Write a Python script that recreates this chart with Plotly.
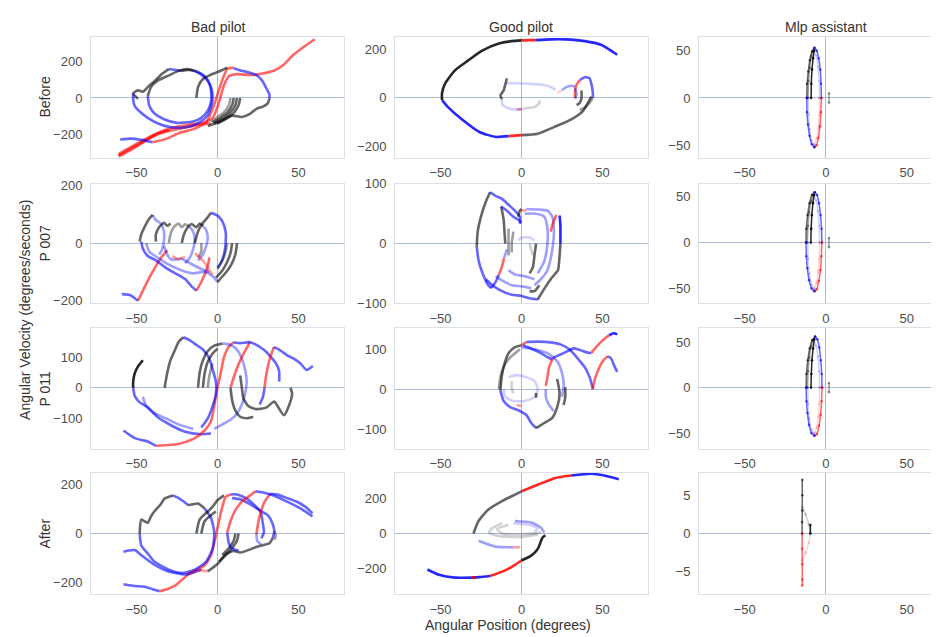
import plotly.graph_objects as go

# ---------------- labels / ticks ----------------
COL_TITLES = ["Bad pilot", "Good pilot", "Mlp assistant"]
ROW_TITLES = ["Before", "P 007", "P 011", "After"]
X_TITLE = "Angular Position (degrees)"
Y_TITLE = "Angular Velocity (degrees/seconds)"
X_TICKS = [-50, 0, 50]
Y_TICKS = [
    [[-200, 0, 200], [-200, 0, 200], [-50, 0, 50]],
    [[-200, 0, 200], [-100, 0, 100], [-50, 0, 50]],
    [[-100, 0, 100], [-100, 0, 100], [-50, 0, 50]],
    [[-200, 0, 200], [-200, 0, 200], [-5, 0, 5]],
]
Y_RANGES = [
    [[-330, 335], [-245, 248], [-63, 64]],
    [[-208, 205], [-100, 100], [-66, 64]],
    [[-199, 194], [-149, 152], [-67, 65]],
    [[-248, 248], [-350, 350], [-7.9, 7.9]],
]

# ---------------- trajectories: (segment kind, recency level, points) ----------------
BAD_BEFORE = [
    ("r", 1, [(-61, -325), (-52, -280), (-44, -235), (-37, -195), (-28, -165), (-18, -148), (-9, -138), (-3, -110), (0, -50), (2, 10), (4, 70), (7, 120), (12, 132), (20, 127), (27, 134), (35, 152), (41, 185), (46, 232), (52, 275), (60, 325)]),
    ("r", 1, [(-61, -318), (-50, -262), (-40, -215), (-33, -190), (-22, -168), (-12, -150), (-4, -140)]),
    ("r", 1, [(-61, -311), (-48, -245), (-38, -200), (-30, -178)]),
    ("b", 1, [(-60, -230), (-53, -225), (-47, -232), (-40, -245)]),
    ("r", 1, [(-40, -245), (-32, -228), (-24, -195), (-14, -170), (-7, -135), (-3, -60), (0, 20), (3, 100), (6, 160), (10, 168)]),
    ("k", 1, [(-49, -5), (-52, 25), (-49, 42), (-46, 35), (-43, 60), (-38, 100), (-34, 135), (-30, 160)]),
    ("b", 1, [(-30, 160), (-26, 155), (-22, 150)]),
    ("k", 1, [(-22, 150), (-18, 155), (-14, 150), (-11, 135)]),
    ("b", 1, [(-11, 135), (-7, 105), (-4, 60), (-3, 0), (-4, -50), (-6, -95), (-10, -130), (-16, -155), (-23, -165), (-30, -160), (-37, -140), (-43, -110), (-48, -75), (-51, -45), (-52, -10), (-52, 25)]),
    ("k", 1, [(-43, 10), (-41, 60), (-37, 95), (-30, 125), (-24, 150), (-19, 160), (-15, 152)]),
    ("b", 1, [(-15, 152), (-10, 135), (-6, 100), (-4, 40), (-4, -20), (-6, -70), (-10, -110), (-15, -130), (-25, -138), (-33, -118), (-39, -85), (-42, -45), (-43, 10)]),
    ("k", 1, [(-13, 0), (-12, 60), (-9, 105), (-5, 125), (-1, 140), (3, 155), (6, 168)]),
    ("b", 1, [(10, 165), (15, 150), (20, 140), (25, 120), (28, 90), (30, 55), (32, 20), (32, -5)]),
    ("k", 1, [(32, -5), (31, -30), (28, -48), (24, -60), (20, -88), (15, -105), (9, -98), (4, -118), (-1, -140), (-6, -155)]),
    ("k", 1, [(14, 0), (13, -40), (10, -82), (6, -112), (0, -142)]),
    ("k", 1, [(12, 0), (11, -40), (8, -80), (4, -110), (-2, -140)]),
    ("k", 1, [(10, 0), (9, -40), (6, -80), (2, -108), (-3, -135)]),
    ("k", 2, [(8, 0), (7, -40), (4, -78), (0, -105), (-4, -132)]),
]

GOOD_BEFORE = [
    ("k", 1, [(43, 5), (41, -20), (38, -53), (31, -87), (20, -120), (10, -147), (0, -153)]),
    ("r", 0, [(0, -153), (-4, -155), (-8, -157)]),
    ("b", 0, [(-8, -157), (-16, -160), (-26, -140), (-37, -87), (-45, -40), (-49, -9)]),
    ("k", 0, [(-49, -9), (-49, 20), (-47, 60), (-41, 113), (-33, 153), (-24.5, 193), (-14, 223), (-6, 233), (0, 236)]),
    ("r", 0, [(0, 236), (5, 237), (9, 237)]),
    ("b", 0, [(9, 237), (18, 240), (27, 240), (39, 233), (49, 218), (59, 177)]),
    ("b", 3, [(-10, 60), (-4, 60), (4, 58), (12, 55), (18, 45), (21, 32)]),
    ("k", 1, [(-9, 80), (-10, 55), (-11, 30), (-13, 10), (-12, -5)]),
    ("b", 3, [(-12, -5), (-12, -25), (-9, -40), (-4, -48), (2, -45)]),
    ("r", 2, [(-3, -47), (0, -47)]),
    ("k", 3, [(2, -42), (8, -38), (11, -22), (11, -10)]),
    ("r", 3, [(22, 20), (25, 32)]),
    ("b", 2, [(25, 32), (28, 45), (31, 50), (33, 45)]),
    ("r", 1, [(33, 0), (33, 30), (34, 55), (36, 73)]),
    ("b", 1, [(36, 73), (39, 85), (42, 80), (43, 60), (44, 20), (44, 0)]),
    ("k", 2, [(44, 0), (42, -20), (39, -40), (36, -50)]),
    ("k", 1, [(37, 30), (37, 0), (36, -20), (34, -30)]),
    ("b", 2, [(33, 40), (34, 15), (33, -5)]),
]

MLP_BEFORE = [
    ("k", 2, [(-11, 0), (-10.6, 18), (-9.9, 32), (-8.9, 44), (-7.6, 51)]),
    ("b", 3, [(-7.5, 50), (-6, 45), (-4.8, 33), (-4, 18), (-3.8, 0)]),
    ("r", 3, [(-3.8, 0), (-4, -18), (-4.6, -32), (-5.6, -43), (-7, -49)]),
    ("b", 3, [(-7, -50), (-8.8, -45), (-10, -33), (-10.6, -18), (-10.8, 0)]),
    ("k", 1, [(-11.7, 0), (-11.5, 15), (-10.8, 28), (-9.8, 40), (-8.5, 49), (-7, 53)]),
    ("b", 1, [(-7, 53), (-5.6, 50), (-4.4, 42), (-3.4, 30), (-2.9, 15), (-2.7, 0)]),
    ("r", 1, [(-2.7, 0), (-3, -15), (-3.6, -30), (-4.5, -42), (-5.7, -50), (-7, -52)]),
    ("b", 1, [(-7, -52), (-8.6, -49), (-10, -40), (-11, -28), (-11.6, -15), (-11.7, 0)]),
    ("k", 0, [(-9, 0), (-8.9, 15), (-8.5, 30), (-7.8, 42), (-7.2, 50)]),
    ("k", 2, [(2, -5), (2, 5)]),
]

BAD_P007 = [
    ("b", 1, [(-59, -177), (-54, -180), (-49, -200)]),
    ("r", 1, [(-49, -200), (-46, -165), (-42, -120), (-38, -80), (-34, -45), (-31, -25)]),
    ("k", 1, [(-48, 5), (-47, 30), (-45, 55), (-42, 85), (-40, 98)]),
    ("b", 2, [(-40, 98), (-38, 80), (-35, 68), (-33, 40), (-33, 10), (-34, -20), (-36, -40)]),
    ("b", 1, [(-47, 5), (-46, -20), (-43, -45), (-38, -60), (-32, -85), (-26, -105), (-20, -125), (-16, -150), (-13, -165)]),
    ("r", 1, [(-13, -165), (-10, -135), (-8, -110), (-6, -80), (-5, -50)]),
    ("b", 2, [(-44, 0), (-42, -30), (-37, -50), (-30, -75), (-22, -95), (-15, -105), (-8, -100), (-3, -115), (0, -135)]),
    ("b", 2, [(-33, -10), (-30, -50), (-28, -58), (-22, -55), (-17, -70), (-10, -90), (-5, -100)]),
    ("k", 1, [(-38, 5), (-38, 30), (-36, 55), (-33, 70), (-31, 60), (-29, 68)]),
    ("k", 2, [(-30, 0), (-29, 30), (-27, 55), (-24, 68), (-22, 55), (-20, 65), (-17, 55)]),
    ("k", 1, [(-22, 0), (-21, 25), (-19, 50), (-16, 66), (-13, 55), (-11, 68), (-9, 60)]),
    ("b", 2, [(-17, 55), (-15, 40), (-14, 10), (-15, -20), (-17, -50), (-20, -70)]),
    ("b", 2, [(-9, 60), (-7, 45), (-6, 20), (-7, -10), (-9, -40), (-12, -60)]),
    ("k", 1, [(-14, 0), (-12, 40), (-9, 70), (-6, 90), (-4, 105)]),
    ("b", 1, [(-4, 105), (0, 95), (3, 75), (5, 40), (5, 0), (4, -40), (2, -70), (0, -85)]),
    ("k", 1, [(12, 0), (11, -40), (8, -80), (4, -110), (0, -135)]),
    ("k", 1, [(9, 0), (8, -35), (6, -65), (3, -95), (-1, -120)]),
    ("k", 2, [(6, 0), (5, -30), (3, -60), (0, -90)]),
    ("k", 2, [(-10, 0), (-10, -30), (-12, -50)]),
    ("r", 2, [(-14, -35), (-10, -55), (-7, -75), (-5, -95), (-3, -110)]),
    ("r", 2, [(-28, -45), (-24, -55), (-20, -48)]),
]

GOOD_P007 = [
    ("k", 1, [(-27.6, -5), (-27, 20), (-25, 45), (-22, 70), (-19.4, 86)]),
    ("b", 1, [(-19.4, 86), (-16, 80), (-12, 75), (-8, 65), (-4, 55), (-1, 45), (-1, 33)]),
    ("b", 1, [(-27.6, -5), (-26.5, -28), (-24, -50), (-21, -68), (-18.8, -75)]),
    ("b", 1, [(-18.8, -75), (-16, -65), (-14, -53)]),
    ("r", 1, [(-14, -53), (-12, -38), (-10.8, -25)]),
    ("b", 2, [(-10.8, -25), (-9, -10)]),
    ("k", 1, [(-10, 0), (-10.5, 20), (-11, 40), (-12, 55), (-12.5, 62)]),
    ("b", 1, [(-12.5, 62), (-9, 55), (-5, 45), (-2, 40), (0, 35)]),
    ("k", 1, [(-2, 45), (-1, 55), (0, 58)]),
    ("r", 2, [(0, 55), (3, 56)]),
    ("b", 2, [(3, 58), (10, 57), (16, 55), (19, 45), (20, 20), (19.5, 0), (18, -25), (16, -45), (12, -60), (8, -70)]),
    ("b", 2, [(2, 50), (9, 50), (14, 45), (16, 25), (16, 0), (14, -30), (10, -50)]),
    ("r", 1, [(18, 20), (19.5, 35), (21.5, 48)]),
    ("b", 0, [(23.5, 47), (24, 30), (24, 15), (24, 0)]),
    ("k", 1, [(24, 0), (23.5, -20), (22.5, -45), (21, -50), (18, -60), (15, -72), (12, -85), (10, -94)]),
    ("b", 1, [(10, -94), (5, -92), (0, -88), (-6, -86), (-12, -80), (-18, -70), (-22, -60)]),
    ("b", 2, [(6, -75), (0, -72), (-6, -70), (-12, -62), (-16, -55)]),
    ("b", 2, [(8, -60), (2, -55), (-4, -52), (-8, -45)]),
    ("k", 1, [(9, 0), (8, -20), (7, -40), (5, -50)]),
    ("k", 1, [(11, -70), (8, -80), (5, -80)]),
    ("k", 2, [(-8, 25), (-8, 0), (-8, -20)]),
    ("k", 2, [(-5, 20), (-6, 0), (-6, -15)]),
    ("b", 3, [(-2, 5), (0, 10), (5, 10), (8, 5)]),
    ("k", 3, [(5, 0), (6, -10), (7, -20)]),
]

MLP_P007 = [
    ("k", 2, [(-11.4, 0), (-11, 18), (-10.2, 33), (-9, 45), (-7.6, 52)]),
    ("b", 3, [(-7.5, 52), (-6, 46), (-4.8, 34), (-4, 18), (-3.8, 0)]),
    ("r", 3, [(-3.8, 0), (-4, -18), (-4.6, -32), (-5.6, -44), (-7, -50)]),
    ("b", 3, [(-7, -51), (-8.8, -46), (-10.2, -34), (-10.9, -18), (-11.1, 0)]),
    ("k", 1, [(-12.2, 0), (-12, 15), (-11.2, 30), (-10, 43), (-8.5, 52), (-6.8, 55)]),
    ("b", 1, [(-6.8, 55), (-5.4, 52), (-4.2, 43), (-3.2, 30), (-2.6, 15), (-2.4, 0)]),
    ("r", 1, [(-2.4, 0), (-2.7, -15), (-3.3, -30), (-4.3, -42), (-5.6, -51), (-7, -53)]),
    ("b", 1, [(-7, -53), (-8.8, -50), (-10.3, -41), (-11.4, -28), (-12, -15), (-12.2, 0)]),
    ("k", 0, [(-9.2, 0), (-9, 15), (-8.6, 30), (-7.9, 43), (-7.2, 52)]),
    ("k", 2, [(2, -5), (2, 5)]),
]

BAD_P011 = [
    ("k", 0, [(-46, 90), (-49, 70), (-51, 48), (-52, 20), (-52, 0)]),
    ("b", 1, [(-52, 0), (-51, -27), (-48, -48), (-43, -64), (-37, -96), (-29, -122), (-20, -144), (-10, -152), (-4, -150)]),
    ("b", 1, [(-58, -140), (-54, -155), (-51, -165), (-46, -172), (-43, -176), (-38, -190)]),
    ("r", 1, [(-38, -190), (-32, -188), (-26, -186), (-20, -178), (-14, -165), (-8, -140), (-4, -110), (-2, -58), (0, 0), (2, 48), (4, 100), (7, 135), (10, 149)]),
    ("k", 1, [(-32.6, 0), (-31, 48), (-29, 90), (-26.5, 120), (-24, 150), (-21, 165)]),
    ("b", 1, [(-21, 165), (-17, 155), (-13, 140), (-9, 125), (-5, 95), (-3, 60), (-1, 20), (-1, -20), (-3, -60), (-6, -100), (-10, -130)]),
    ("k", 1, [(-12, 0), (-11, 50), (-9, 90), (-6, 120), (-2, 138), (3, 145)]),
    ("k", 1, [(-9, 0), (-8, 45), (-6, 85), (-3, 112), (0, 128)]),
    ("k", 2, [(-6, 0), (-5, 40), (-3, 80)]),
    ("b", 2, [(3, 145), (8, 140), (12, 125), (15, 95), (17, 60), (18, 20), (17, -20), (15, -55), (12, -85), (8, -105), (3, -120), (-2, -135)]),
    ("k", 1, [(14, 40), (15, 0), (16, -35), (19, -60), (24, -70), (30, -65), (35, -45), (37, -60), (41, -90), (44, -60), (46, -20), (45, 0)]),
    ("k", 1, [(8, 0), (9, -40), (11, -75), (14, -95), (18, -100), (22, -95)]),
    ("r", 1, [(8, 0), (11, 50), (15, 100), (20, 149)]),
    ("b", 1, [(10, 149), (14, 146), (20, 149), (24, 140), (27, 130), (30, 118), (33, 100), (36, 80), (38, 55), (38, 20)]),
    ("r", 1, [(29, 0), (30, 40), (32, 90), (34.7, 133)]),
    ("b", 1, [(34.7, 133), (38, 125), (43, 106), (47, 95), (51, 80), (55, 58), (58.8, 71)]),
    ("b", 1, [(29, 0), (28, -30), (26, -55)]),
    ("b", 2, [(-46, -30), (-44, -60), (-40, -80), (-32, -100), (-24, -120), (-15, -135)]),
]

GOOD_P011 = [
    ("k", 1, [(-13, -4), (-12, 37), (-10, 70), (-8, 90), (-4, 105), (0, 110)]),
    ("r", 1, [(0, 110), (3, 118)]),
    ("b", 1, [(3, 118), (10, 119), (18, 117), (24, 112), (30, 98), (35, 75), (39, 55), (42, 30), (44, 0)]),
    ("r", 1, [(44, 0), (45, 22), (47, 45), (50, 70), (53, 82)]),
    ("b", 1, [(53, 82), (55, 78), (57, 60), (59, 43)]),
    ("b", 1, [(1, 110), (7, 100), (12, 90), (16, 80), (19, 74)]),
    ("r", 1, [(15, 8), (16, 30), (17, 55), (19.4, 78)]),
    ("b", 1, [(19.4, 78), (23, 85), (27, 92), (32, 102), (36, 98), (40, 92), (43, 90)]),
    ("r", 1, [(43, 90), (46, 105), (50, 122), (54, 135)]),
    ("b", 0, [(54, 135), (57, 140), (59, 137)]),
    ("b", 1, [(-13, -4), (-11, -30), (-7, -45), (-2, -53), (3, -65), (6, -85), (9, -98)]),
    ("k", 1, [(9, -98), (14, -85), (19, -72), (22, -45), (23.5, -12), (22, 25)]),
    ("b", 2, [(0, 105), (8, 100), (16, 90), (22, 70), (25, 40), (26, 10), (25, -20)]),
    ("b", 2, [(15, 0), (15, -20), (17, -40), (20, -55)]),
    ("k", 1, [(27, 5), (27, -20), (26, -40)]),
    ("k", 2, [(-14, 0), (-13, 30), (-11, 55), (-8, 75), (-4, 90), (-1, 100)]),
    ("b", 3, [(-8, 30), (-3, 35), (3, 30), (8, 20), (10, 0), (8, -20), (2, -30), (-5, -30), (-10, -20), (-11, 0)]),
    ("k", 3, [(-6, 20), (-6, 0), (-5, -10)]),
    ("k", 1, [(9, -10), (9, -15), (9, -22)]),
    ("r", 2, [(-3, -40), (0, -42)]),
]

MLP_P011 = [
    ("k", 2, [(-11.3, 0), (-10.9, 18), (-10.1, 33), (-9, 45), (-7.6, 53)]),
    ("b", 3, [(-7.5, 52), (-6, 46), (-4.8, 34), (-4, 18), (-3.8, 0)]),
    ("r", 3, [(-3.8, 0), (-4, -18), (-4.6, -32), (-5.6, -44), (-7, -50)]),
    ("b", 3, [(-7, -51), (-8.8, -46), (-10.2, -34), (-10.9, -18), (-11.1, 0)]),
    ("k", 1, [(-12.1, 0), (-11.9, 15), (-11.1, 30), (-9.9, 43), (-8.4, 52), (-6.6, 56)]),
    ("b", 1, [(-6.6, 56), (-5.2, 53), (-4, 44), (-3.1, 30), (-2.5, 15), (-2.3, 0)]),
    ("r", 1, [(-2.3, 0), (-2.6, -15), (-3.2, -30), (-4.2, -42), (-5.5, -51), (-7, -53)]),
    ("b", 1, [(-7, -53), (-8.8, -50), (-10.3, -41), (-11.3, -28), (-11.9, -15), (-12.1, 0)]),
    ("k", 0, [(-9.1, 0), (-8.9, 15), (-8.5, 30), (-7.8, 43), (-7.1, 53)]),
    ("k", 2, [(2, -5), (2, 5)]),
]

BAD_AFTER = [
    ("b", 1, [(-58, -208), (-51, -215), (-45, -218), (-40, -228), (-35.7, -237)]),
    ("r", 1, [(-35.7, -237), (-30, -225), (-26.5, -215), (-22, -190), (-18, -168), (-13, -150), (-8, -130), (-4, -89), (-1, -9), (2, 83), (5, 150), (8, 160)]),
    ("b", 1, [(8, 160), (12, 160), (18, 143), (23, 115), (26.5, 90), (28, 40), (28.6, 4), (27, -20)]),
    ("b", 1, [(-58, -75), (-55, -70), (-51, -68), (-47, -89), (-39, -128), (-30.6, -155), (-20, -168), (-14, -158), (-10, -148)]),
    ("r", 2, [(-18, -165), (-12, -150), (-6, -155)]),
    ("k", 1, [(-6, -155), (0, -125), (5, -85), (10, -72), (14, -78), (19, -68), (24, -55), (28, -48), (32, -40), (34, -20)]),
    ("b", 1, [(34, -20), (35, 10), (34, 40), (31, 75), (26, 95), (20, 120), (14, 140), (9, 145)]),
    ("k", 1, [(-48, 0), (-47, 57), (-45, 50), (-43, 44), (-41, 70), (-39, 90), (-35, 120), (-32.6, 143), (-27.5, 156)]),
    ("b", 1, [(-27.5, 156), (-24, 145), (-22, 136), (-18, 116)]),
    ("k", 1, [(-18, 116), (-15, 120), (-12, 123), (-8, 103)]),
    ("b", 1, [(-8, 103), (-4, 64), (-2, 4), (-3, -62), (-7, -115), (-14, -148), (-22, -162), (-30, -148), (-39, -115), (-43, -82), (-47, -49), (-48, 0)]),
    ("k", 1, [(-13, 0), (-11, 57), (-6, 90), (-3, 110), (0, 136), (4, 156)]),
    ("k", 1, [(-10, 0), (-8, 50), (-4, 75), (-1, 90)]),
    ("k", 1, [(13, 0), (12, -30), (9, -60), (5, -90), (1, -115)]),
    ("k", 1, [(11, 0), (10, -30), (7, -60), (3, -88)]),
    ("r", 1, [(24, -3), (25, 40), (26.5, 83), (29, 130), (32.6, 163)]),
    ("b", 1, [(32.6, 163), (37, 160), (41, 150), (45, 140), (49, 130), (54, 110), (58.6, 83)]),
    ("r", 1, [(6, 4), (8, 50), (10, 83), (13, 115), (16, 136), (20, 155), (23.5, 173)]),
    ("b", 1, [(23.5, 173), (28, 168), (34.7, 156), (40, 140), (47, 117), (53, 95), (58.6, 70)]),
    ("b", 1, [(6, 4), (7, -40), (9, -62), (13, -70)]),
    ("b", 2, [(24, 0), (24.5, -30), (27, -45)]),
    ("k", 2, [(35, 10), (36, -10), (35, -25)]),
]

GOOD_AFTER = [
    ("k", 1, [(-29.6, 0), (-26.5, 72), (-20.4, 139), (-12, 187), (-4, 225), (0, 244)]),
    ("r", 0, [(0, 244), (10, 282), (20.4, 320), (30.6, 335)]),
    ("b", 0, [(30.6, 335), (43, 345), (51, 335), (60, 314)]),
    ("k", 0, [(14.7, -10), (13, -23), (10, -90), (6, -128), (0, -156)]),
    ("r", 0, [(0, -156), (-4, -181), (-10, -213), (-19.4, -246)]),
    ("b", 0, [(-19.4, -246), (-26, -252), (-30.6, -255)]),
    ("r", 0, [(-30.6, -255), (-28, -254)]),
    ("b", 0, [(-30.6, -255), (-41, -255), (-51, -238), (-58, -208)]),
    ("b", 2, [(-4, 72), (6, 63), (12, 34), (14, 5)]),
    ("b", 2, [(-26.5, -42), (-16, -76), (-5, -80)]),
    ("r", 2, [(-5, -80), (-1, -80)]),
    ("k", 3, [(-12, 60), (-18, 30), (-20, 5), (-14, -15), (0, -20), (10, -5)]),
    ("k", 3, [(-8, 50), (-15, 25), (-12, 0), (0, -5), (12, 5)]),
    ("b", 3, [(-5, 60), (5, 50), (10, 30), (8, 10)]),
]

MLP_AFTER = [
    ("k", 3, [(-14.5, 3.5), (-12.5, 2.5), (-10.5, 1.2), (-9.6, 0)]),
    ("r", 3, [(-9.6, 0), (-10.5, -1.2), (-12.5, -2.5), (-14.5, -3.5)]),
    ("k", 1, [(-14.5, 7.0), (-14.5, 5), (-14.5, 3), (-14.6, 1.5), (-14.6, 0)]),
    ("r", 1, [(-14.6, 0), (-14.6, -2), (-14.5, -4), (-14.5, -6), (-14.5, -6.8)]),
    ("k", 0, [(-9.5, 1.1), (-9.5, 0)]),
]

PANELS = [
    [BAD_BEFORE, GOOD_BEFORE, MLP_BEFORE],
    [BAD_P007, GOOD_P007, MLP_P007],
    [BAD_P011, GOOD_P011, MLP_P011],
    [BAD_AFTER, GOOD_AFTER, MLP_AFTER],
]

# ---------------- styling ----------------
W, H = 939, 637
COL_PX = [(83, 336), (387, 640), (691, 939)]
ROW_PX = [(23, 146), (173, 295), (321, 444), (469, 593)]
X_RANGES = [[-78, 78], [-78, 78], [-78.3, 74.9]]
RGB = {"k": (0, 0, 0), "b": (0, 0, 255), "r": (255, 0, 0)}
ALPHA = {0: 0.85, 1: 0.6, 2: 0.38, 3: 0.18}
FONT = "Liberation Sans, Arial, sans-serif"
FRAME = "#dcdfe6"
ZERO = "#aebbd8"

fig = go.Figure()

for r in range(4):
    for c in range(3):
        idx = r * 3 + c + 1
        xa = "x" if idx == 1 else f"x{idx}"
        ya = "y" if idx == 1 else f"y{idx}"
        for kind, level, pts in PANELS[r][c]:
            xs = [p[0] for p in pts]
            ys = [p[1] for p in pts]
            rr, gg, bb = RGB[kind]
            col = f"rgba({rr},{gg},{bb},{ALPHA[level]})"
            fig.add_trace(go.Scatter(
                x=xs, y=ys, xaxis=xa, yaxis=ya,
                mode="lines+markers" if c == 2 else "lines",
                line=dict(color=col, width=2.6 if c < 2 else 1.5, shape="spline", smoothing=0.6),
                marker=dict(size=2.6, color=col),
                hoverinfo="skip", showlegend=False,
            ))
        x0, x1 = COL_PX[c]
        y0, y1 = ROW_PX[r]
        xkey = "xaxis" if idx == 1 else f"xaxis{idx}"
        ykey = "yaxis" if idx == 1 else f"yaxis{idx}"
        fig.layout[xkey] = dict(
            domain=[x0 / W, min(x1 / W, 1.0)], anchor=ya, range=X_RANGES[c],
            tickvals=X_TICKS, showgrid=False, zeroline=True, zerolinecolor=ZERO,
            zerolinewidth=1.2, showline=True, mirror=True, linecolor=FRAME, linewidth=1,
            ticks="", tickfont=dict(family=FONT, size=13, color="#4d4d4d"),
            ticklabelstandoff=3,
        )
        fig.layout[ykey] = dict(
            domain=[1 - y1 / H, 1 - y0 / H], anchor=xa, range=Y_RANGES[r][c],
            tickvals=Y_TICKS[r][c], showgrid=False, zeroline=True, zerolinecolor=ZERO,
            zerolinewidth=1.2, showline=True, mirror=(c < 2), linecolor=FRAME, linewidth=1,
            ticks="", tickfont=dict(family=FONT, size=13, color="#4d4d4d"),
            ticklabelstandoff=5,
        )

ann = []
col_centers = [210, 513, 818]
for c, t in enumerate(COL_TITLES):
    ann.append(dict(text=t, x=col_centers[c] / W, y=1 - 12 / H, xref="paper", yref="paper",
                    showarrow=False, xanchor="center", yanchor="middle",
                    font=dict(family=FONT, size=14, color="#333333")))
for r, t in enumerate(ROW_TITLES):
    yc = (ROW_PX[r][0] + ROW_PX[r][1]) / 2
    ann.append(dict(text=t, x=37 / W, y=1 - yc / H, xref="paper", yref="paper",
                    showarrow=False, xanchor="center", yanchor="middle", textangle=-90,
                    font=dict(family=FONT, size=14, color="#333333")))
ann.append(dict(text=Y_TITLE, x=17 / W, y=1 - 302 / H, xref="paper", yref="paper",
                showarrow=False, xanchor="center", yanchor="middle", textangle=-90,
                font=dict(family=FONT, size=14, color="#333333")))
ann.append(dict(text=X_TITLE, x=500 / W, y=1 - 625 / H, xref="paper", yref="paper",
                showarrow=False, xanchor="center", yanchor="middle",
                font=dict(family=FONT, size=14, color="#333333")))

fig.update_layout(
    width=W, height=H, margin=dict(l=0, r=0, t=0, b=0),
    paper_bgcolor="white", plot_bgcolor="white", annotations=ann,
)

fig.write_html("out.html")
